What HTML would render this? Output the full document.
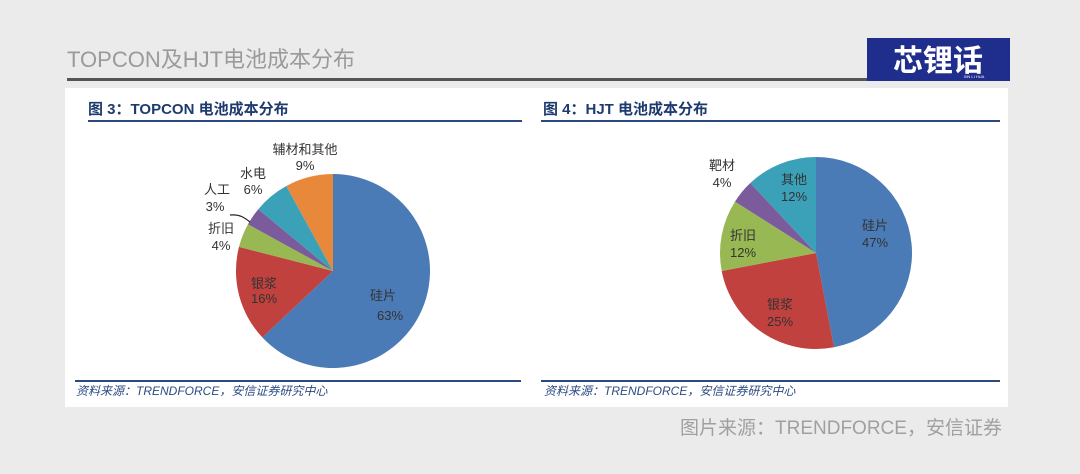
<!DOCTYPE html>
<html><head><meta charset="utf-8"><style>
html,body{margin:0;padding:0;width:1080px;height:474px;overflow:hidden;background:#ebebeb}
svg{display:block}
text{font-family:"Liberation Sans","Noto Sans CJK SC",sans-serif}
</style></head><body>
<svg width="1080" height="474" viewBox="0 0 1080 474">
<rect width="1080" height="474" fill="#ebebeb"/>
<text x="67" y="67" font-size="22" fill="#9a9a9a">TOPCON及HJT电池成本分布</text>
<rect x="67" y="78" width="802" height="3" fill="#555"/>
<rect x="867" y="38" width="143" height="43" fill="#1f2e8c"/>
<text x="938" y="71" font-size="30" fill="#fff" text-anchor="middle" font-weight="bold">芯锂话</text>
<text x="974" y="78" font-size="4" fill="#fff" text-anchor="middle">XIN LI HUA</text>
<rect x="65" y="88" width="943" height="319" fill="#fff"/>
<!-- left -->
<text x="88" y="114" font-size="15" font-weight="bold" fill="#1f3b6e">图 3：TOPCON 电池成本分布</text>
<rect x="88" y="120" width="434" height="2" fill="#2b4a82"/>
<path d="M333,271 L333,174 A97,97 0 1,1 262.3,337.4 Z" fill="#4a7bb7"/>
<path d="M333,271 L262.3,337.4 A97,97 0 0,1 239,246.9 Z" fill="#c0413d"/>
<path d="M333,271 L239,246.9 A97,97 0 0,1 248,224.3 Z" fill="#97b853"/>
<path d="M333,271 L248,224.3 A97,97 0 0,1 258.3,209.2 Z" fill="#7b5b9b"/>
<path d="M333,271 L258.3,209.2 A97,97 0 0,1 286.3,186 Z" fill="#3aa1b9"/>
<path d="M333,271 L286.3,186 A97,97 0 0,1 333,174 Z" fill="#e8883a"/>
<g font-size="13" fill="#333" text-anchor="middle">
<text x="383" y="300">硅片</text><text x="390" y="320">63%</text>
<text x="264" y="288">银浆</text><text x="264" y="303">16%</text>
<text x="221" y="233">折旧</text><text x="221" y="250">4%</text>
<text x="217" y="194">人工</text><text x="215" y="211">3%</text>
<text x="253" y="178">水电</text><text x="253" y="194">6%</text>
<text x="305" y="154">辅材和其他</text><text x="305" y="170">9%</text>
</g>
<path d="M230,215 C240,214 245,218 250,222" stroke="#222" fill="none" stroke-width="1.2"/>
<rect x="75" y="380" width="446" height="2" fill="#2b4a82"/>
<text x="76" y="395" font-size="12" font-style="italic" fill="#2b4a82">资料来源：TRENDFORCE，安信证券研究中心</text>
<!-- right -->
<text x="543" y="114" font-size="15" font-weight="bold" fill="#1f3b6e">图 4：HJT 电池成本分布</text>
<rect x="541" y="120" width="459" height="2" fill="#2b4a82"/>
<path d="M816,253 L816,157 A96,96 0 0,1 834,347.3 Z" fill="#4a7bb7"/>
<path d="M816,253 L834,347.3 A96,96 0 0,1 721.7,271 Z" fill="#c0413d"/>
<path d="M816,253 L721.7,271 A96,96 0 0,1 735,201.6 Z" fill="#97b853"/>
<path d="M816,253 L735,201.6 A96,96 0 0,1 750.3,183 Z" fill="#7b5b9b"/>
<path d="M816,253 L750.3,183 A96,96 0 0,1 816,157 Z" fill="#3aa1b9"/>
<g font-size="13" fill="#333" text-anchor="middle">
<text x="875" y="230">硅片</text><text x="875" y="247">47%</text>
<text x="780" y="309">银浆</text><text x="780" y="326">25%</text>
<text x="743" y="240">折旧</text><text x="743" y="257">12%</text>
<text x="722" y="170">靶材</text><text x="722" y="187">4%</text>
<text x="794" y="184">其他</text><text x="794" y="201">12%</text>
</g>
<rect x="541" y="380" width="459" height="2" fill="#2b4a82"/>
<text x="544" y="395" font-size="12" font-style="italic" fill="#2b4a82">资料来源：TRENDFORCE，安信证券研究中心</text>
<text x="680" y="434" font-size="19" fill="#a0a0a0">图片来源：TRENDFORCE，安信证券</text>
</svg>
</body></html>
